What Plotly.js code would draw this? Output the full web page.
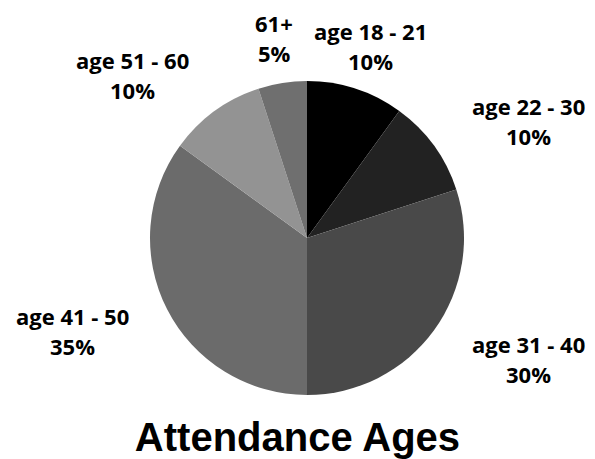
<!DOCTYPE html>
<html>
<head>
<meta charset="utf-8">
<script src="https://cdn.plot.ly/plotly-3.0.1.min.js"></script>
<style>
  html, body { margin: 0; padding: 0; background: #fff; }
  #chart { width: 595px; height: 459px; }
</style>
</head>
<body>
<div id="chart"></div>
<script>
// Age groups and their share of attendance (percent)
const categories = ['age 18 - 21', 'age 22 - 30', 'age 31 - 40', 'age 41 - 50', 'age 51 - 60', '61+'];
const shares = [10, 10, 30, 35, 10, 5];
const sliceColors = ['#000000', '#222222', '#494949', '#6b6b6b', '#939393', '#6f6f6f'];

// Label anchor points (pixels from the top-left of the figure), one per slice
const labelX = [370, 528, 528, 72, 132, 274];
const labelY = [31, 106, 344, 316, 60, 23];
const lineGap = 30;

const W = 595, H = 459;
const labelFont = { family: 'Open Sans', size: 22, color: '#000000', weight: 700 };

const annotations = [];
categories.forEach((cat, i) => {
  annotations.push({
    x: labelX[i] / W, y: 1 - labelY[i] / H, xref: 'paper', yref: 'paper',
    text: '<b>' + cat + '</b>', showarrow: false, xanchor: 'center', yanchor: 'middle',
    font: labelFont
  });
  annotations.push({
    x: labelX[i] / W, y: 1 - (labelY[i] + lineGap) / H, xref: 'paper', yref: 'paper',
    text: '<b>' + shares[i] + '%</b>', showarrow: false, xanchor: 'center', yanchor: 'middle',
    font: labelFont
  });
});

const trace = {
  type: 'pie',
  labels: categories,
  values: shares,
  sort: false,
  direction: 'clockwise',
  rotation: 0,
  marker: { colors: sliceColors, line: { width: 0 } },
  textinfo: 'none',
  hoverinfo: 'label+percent',
  domain: { x: [150 / W, 464 / W], y: [1 - 395 / H, 1 - 81 / H] }
};

const layout = {
  width: W, height: H,
  margin: { l: 0, r: 0, t: 0, b: 0 },
  paper_bgcolor: '#ffffff',
  showlegend: false,
  title: {
    text: '<b>Attendance Ages</b>',
    font: { family: 'Liberation Sans, Arial, sans-serif', size: 40, color: '#000000' },
    x: 0.5, xanchor: 'center', y: 1 - 437 / H, yanchor: 'middle'
  },
  annotations: annotations
};

Plotly.newPlot('chart', [trace], layout, { displayModeBar: false, staticPlot: true });
</script>
</body>
</html>
